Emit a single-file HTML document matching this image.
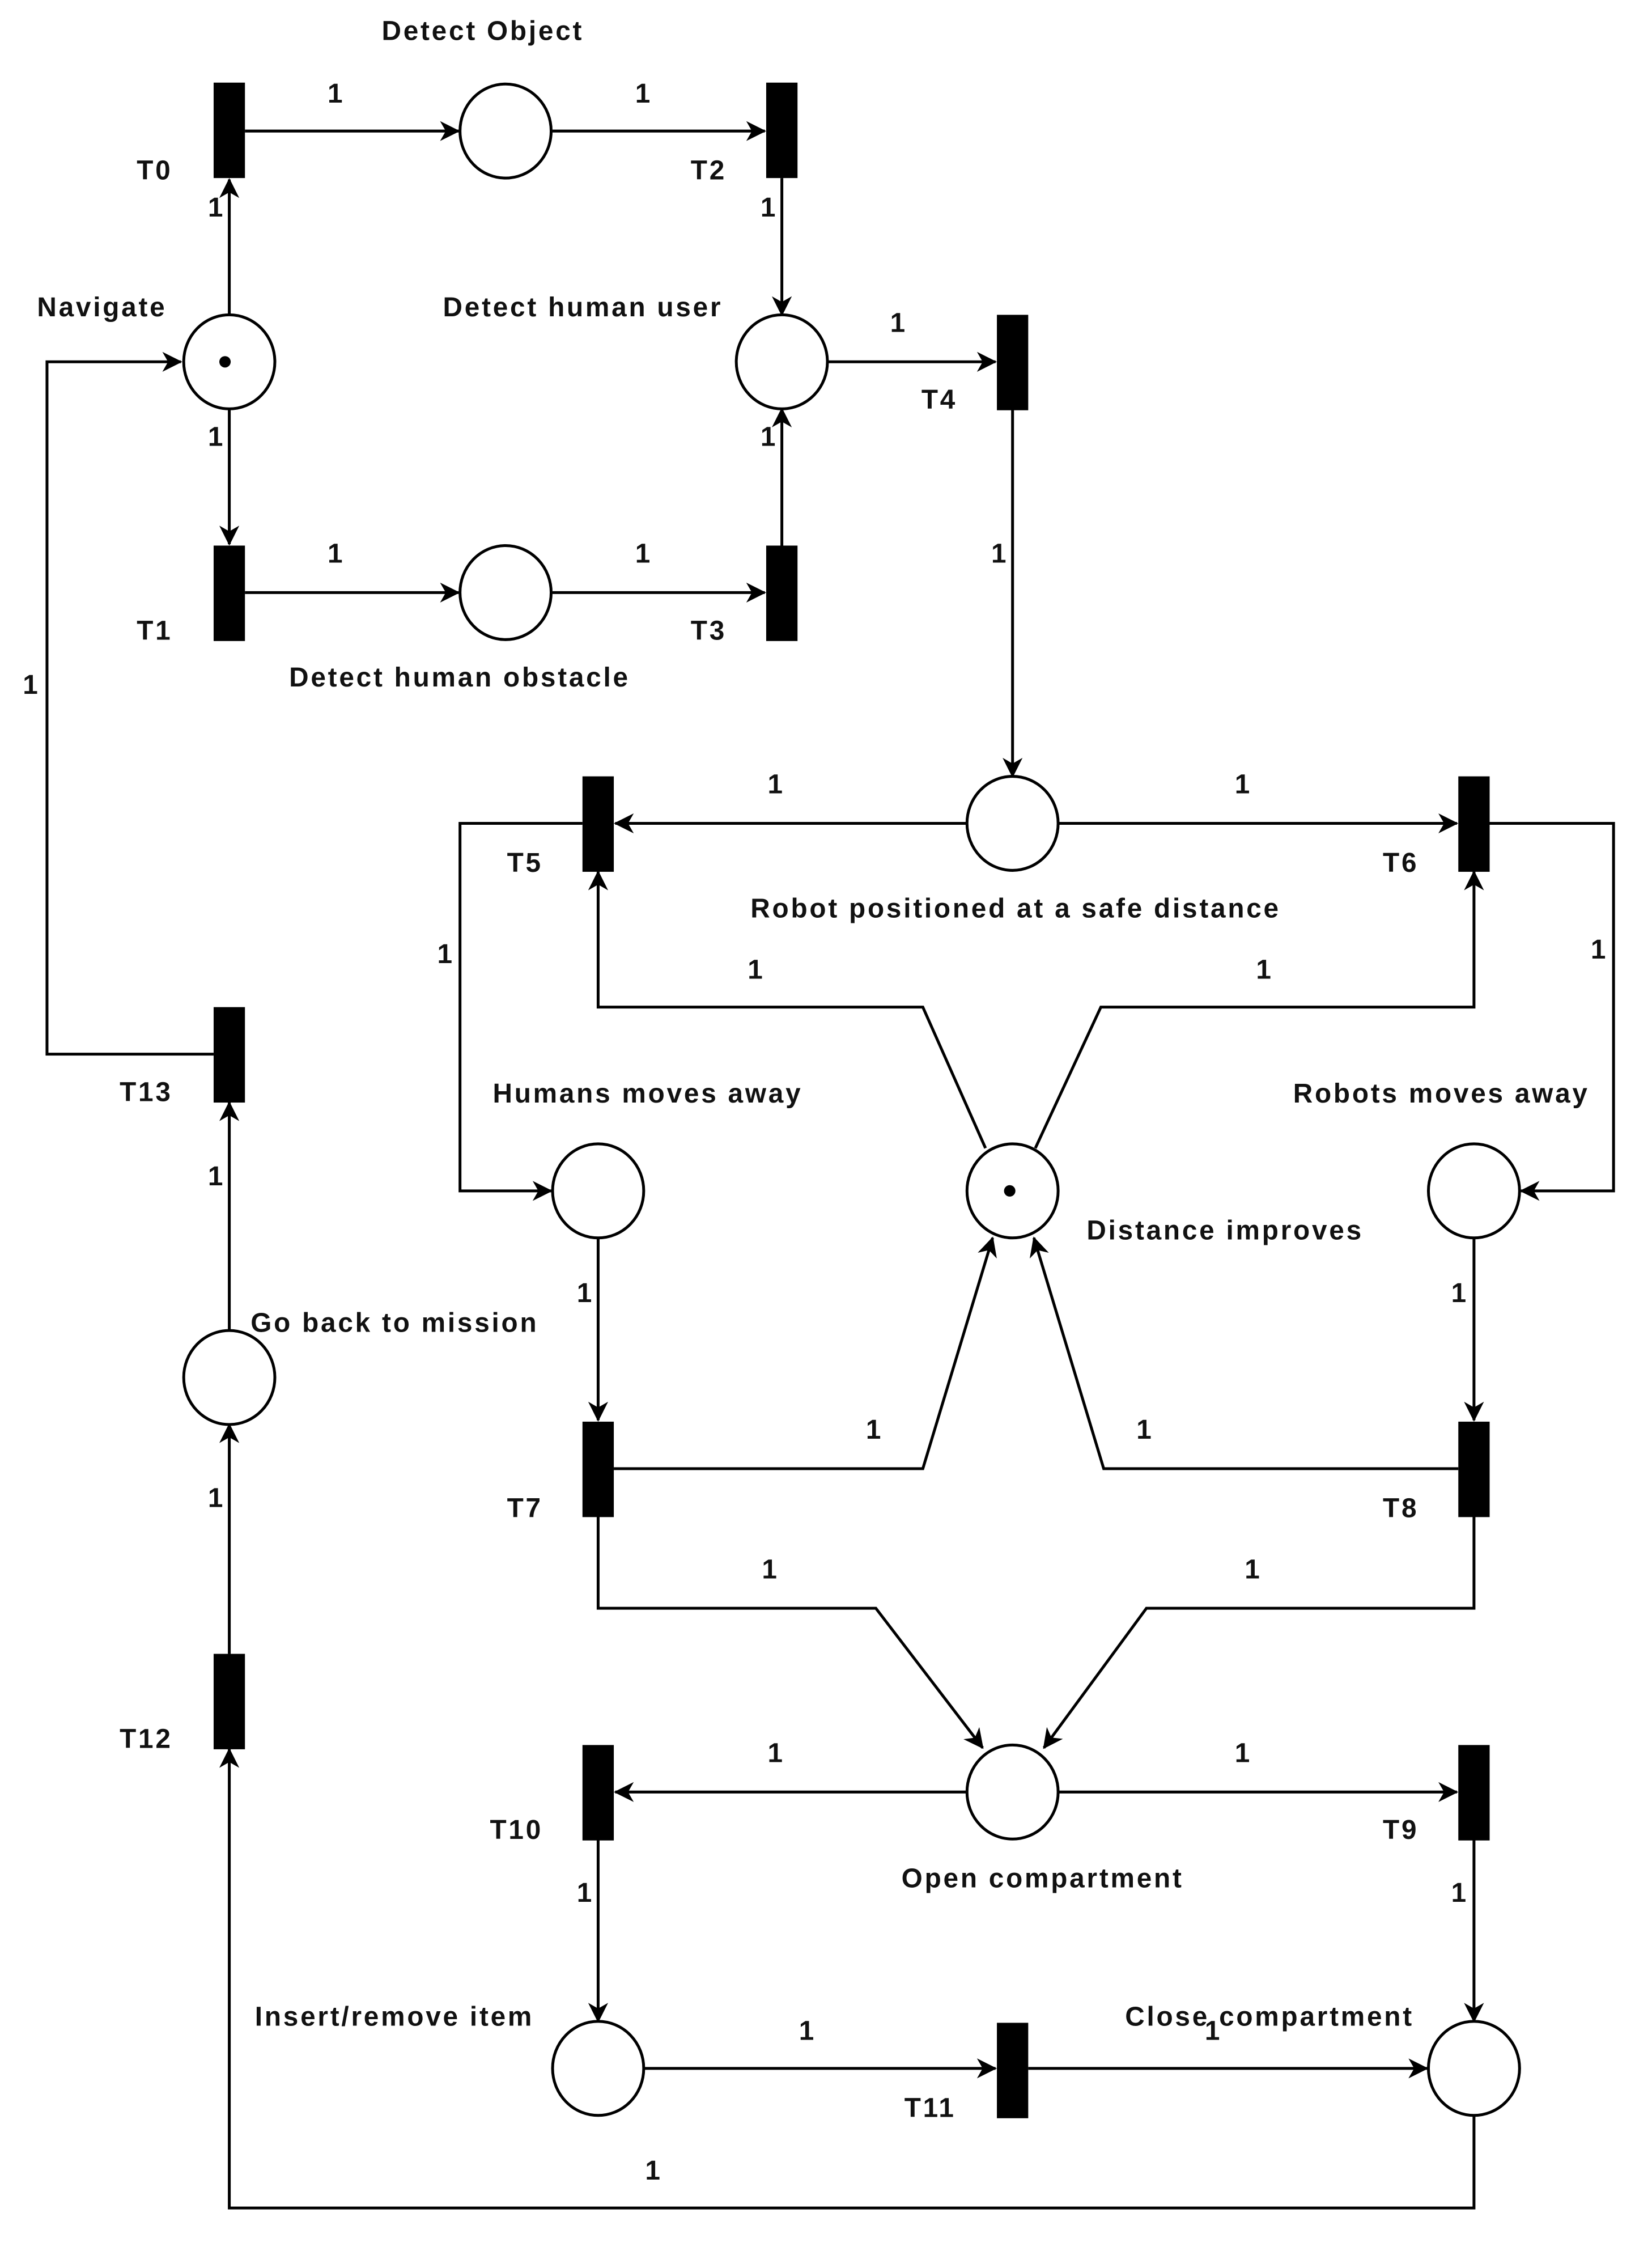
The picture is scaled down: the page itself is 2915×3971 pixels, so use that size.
<!DOCTYPE html>
<html><head><meta charset="utf-8"><style>
html,body{margin:0;padding:0;background:#fff}
svg{display:block}
text{font-family:"Liberation Sans",sans-serif;font-weight:bold;font-size:19px;letter-spacing:1.5px;fill:#111}
</style></head><body>
<svg width="2915" height="3971" viewBox="0 0 1160 1580.2" preserveAspectRatio="none" xmlns="http://www.w3.org/2000/svg">
<defs>
<marker id="a" markerWidth="20" markerHeight="20" refX="13" refY="7" orient="auto" markerUnits="userSpaceOnUse">
<path d="M0,0 L14,7 L0,14 L4,7 Z" fill="#000"/>
</marker>
</defs>
<g fill="none" stroke="#000" stroke-width="2">
<path d="M172,92 H322" marker-end="url(#a)"/>
<path d="M388,92 H537" marker-end="url(#a)"/>
<path d="M161,222 V126" marker-end="url(#a)"/>
<path d="M161,286 V382" marker-end="url(#a)"/>
<path d="M172,416 H322" marker-end="url(#a)"/>
<path d="M388,416 H537" marker-end="url(#a)"/>
<path d="M549,125 V221" marker-end="url(#a)"/>
<path d="M549,383 V287" marker-end="url(#a)"/>
<path d="M581,254 H699" marker-end="url(#a)"/>
<path d="M711,287 V545" marker-end="url(#a)"/>
<path d="M679,578 H432" marker-end="url(#a)"/>
<path d="M743,578 H1023" marker-end="url(#a)"/>
<path d="M409,578 H323 V836 H387" marker-end="url(#a)"/>
<path d="M1046,578 H1133 V836 H1068" marker-end="url(#a)"/>
<path d="M692,806 L648,707 H420 V612" marker-end="url(#a)"/>
<path d="M727,806 L773,707 H1035 V612" marker-end="url(#a)"/>
<path d="M420,868 V997" marker-end="url(#a)"/>
<path d="M1035,868 V997" marker-end="url(#a)"/>
<path d="M431,1031 H648 L697,869" marker-end="url(#a)"/>
<path d="M1024,1031 H775 L726,869" marker-end="url(#a)"/>
<path d="M420,1064 V1129 H615 L690,1227" marker-end="url(#a)"/>
<path d="M1035,1064 V1129 H805 L733,1227" marker-end="url(#a)"/>
<path d="M679,1258 H432" marker-end="url(#a)"/>
<path d="M743,1258 H1023" marker-end="url(#a)"/>
<path d="M420,1291 V1419" marker-end="url(#a)"/>
<path d="M1035,1291 V1419" marker-end="url(#a)"/>
<path d="M452,1452 H699" marker-end="url(#a)"/>
<path d="M722,1452 H1002" marker-end="url(#a)"/>
<path d="M1035,1484 V1550 H161 V1228" marker-end="url(#a)"/>
<path d="M161,1161 V1000" marker-end="url(#a)"/>
<path d="M161,935 V774" marker-end="url(#a)"/>
<path d="M150,740 H33 V254 H127" marker-end="url(#a)"/>
</g>
<g fill="#fff" stroke="#000" stroke-width="2">
<ellipse cx="355" cy="92" rx="32" ry="33"/>
<ellipse cx="161" cy="254" rx="32" ry="33"/>
<ellipse cx="549" cy="254" rx="32" ry="33"/>
<ellipse cx="355" cy="416" rx="32" ry="33"/>
<ellipse cx="711" cy="578" rx="32" ry="33"/>
<ellipse cx="420" cy="836" rx="32" ry="33"/>
<ellipse cx="711" cy="836" rx="32" ry="33"/>
<ellipse cx="1035" cy="836" rx="32" ry="33"/>
<ellipse cx="161" cy="967" rx="32" ry="33"/>
<ellipse cx="711" cy="1258" rx="32" ry="33"/>
<ellipse cx="420" cy="1452" rx="32" ry="33"/>
<ellipse cx="1035" cy="1452" rx="32" ry="33"/>
</g>
<circle cx="158" cy="254" r="4" fill="#000"/>
<circle cx="709" cy="836" r="4" fill="#000"/>
<g fill="#000">
<rect x="150" y="58" width="22" height="67"/>
<rect x="538" y="58" width="22" height="67"/>
<rect x="150" y="383" width="22" height="67"/>
<rect x="538" y="383" width="22" height="67"/>
<rect x="700" y="221" width="22" height="67"/>
<rect x="409" y="545" width="22" height="67"/>
<rect x="1024" y="545" width="22" height="67"/>
<rect x="150" y="707" width="22" height="67"/>
<rect x="409" y="998" width="22" height="67"/>
<rect x="1024" y="998" width="22" height="67"/>
<rect x="150" y="1161" width="22" height="67"/>
<rect x="409" y="1225" width="22" height="67"/>
<rect x="1024" y="1225" width="22" height="67"/>
<rect x="700" y="1420" width="22" height="67"/>
</g>
<text x="268" y="28">Detect Object</text>
<text x="26" y="222">Navigate</text>
<text x="311" y="222">Detect human user</text>
<text x="203" y="482">Detect human obstacle</text>
<text x="527" y="644">Robot positioned at a safe distance</text>
<text x="346" y="774">Humans moves away</text>
<text x="908" y="774">Robots moves away</text>
<text x="763" y="870">Distance improves</text>
<text x="176" y="935">Go back to mission</text>
<text x="633" y="1325">Open compartment</text>
<text x="179" y="1422">Insert/remove item</text>
<text x="790" y="1422">Close compartment</text>
<g>
<text x="96" y="126">T0</text><text x="485" y="126">T2</text>
<text x="96" y="449">T1</text><text x="485" y="449">T3</text>
<text x="647" y="287">T4</text>
<text x="356" y="612">T5</text><text x="971" y="612">T6</text>
<text x="84" y="773">T13</text>
<text x="356" y="1065">T7</text><text x="971" y="1065">T8</text>
<text x="84" y="1227">T12</text>
<text x="344" y="1291">T10</text><text x="971" y="1291">T9</text>
<text x="635" y="1486">T11</text>
</g>
<g>
<text x="230" y="72">1</text><text x="446" y="72">1</text>
<text x="146" y="152">1</text><text x="534" y="152">1</text>
<text x="146" y="313">1</text><text x="534" y="313">1</text>
<text x="230" y="395">1</text><text x="446" y="395">1</text>
<text x="625" y="233">1</text>
<text x="696" y="395">1</text>
<text x="16" y="487">1</text>
<text x="539" y="557">1</text><text x="867" y="557">1</text>
<text x="307" y="676">1</text><text x="1117" y="673">1</text>
<text x="525" y="687">1</text><text x="882" y="687">1</text>
<text x="146" y="832">1</text>
<text x="405" y="914">1</text><text x="1019" y="914">1</text>
<text x="146" y="1058">1</text>
<text x="608" y="1010">1</text><text x="798" y="1010">1</text>
<text x="535" y="1108">1</text><text x="874" y="1108">1</text>
<text x="539" y="1237">1</text><text x="867" y="1237">1</text>
<text x="405" y="1335">1</text><text x="1019" y="1335">1</text>
<text x="561" y="1432">1</text><text x="846" y="1432">1</text>
<text x="453" y="1530">1</text>
</g>
</svg>
</body></html>
